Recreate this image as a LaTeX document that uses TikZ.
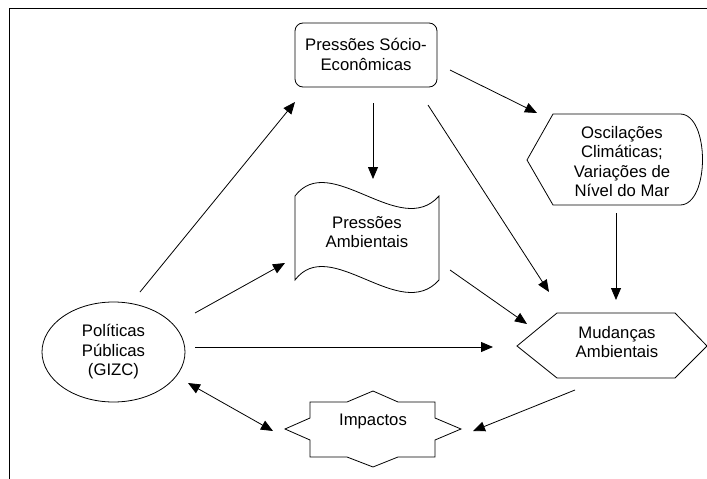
\documentclass[tikz,border=0pt]{standalone}
\usepackage{fontspec}
\setmainfont{Liberation Sans}
\usetikzlibrary{arrows.meta}
\tikzset{
  shapeline/.style={draw=black, line width=0.8pt},
  lbl/.style={align=center, inner sep=0pt, font=\fontsize{16.7}{19.5}\selectfont},
  conn/.style={draw=black, line width=0.8pt, -{Triangle[length=12pt,width=10pt]}},
  dconn/.style={draw=black, line width=0.8pt, {Triangle[length=12pt,width=10pt]}-{Triangle[length=12pt,width=10pt]}},
}
\begin{document}
\begin{tikzpicture}[x=1pt,y=-1pt]
\useasboundingbox (0,0) rectangle (707,479);
% frame
\draw[line width=0.8pt] (9,479) -- (9,8) -- (707,8);

% Pressões Sócio-Econômicas
\draw[shapeline, rounded corners=8pt] (295,23) rectangle (437,87);
\node[lbl] (pse) at (366,54.5) {Pressões Sócio-\\Econômicas};

% Pressões Ambientais (wavy document)
\draw[shapeline] (295,196) .. controls (330,150) and (400,240) .. (439,196)
  -- (439,280) .. controls (400,324) and (330,234) .. (295,280) -- cycle;
\node[lbl] (pa) at (367,232) {Pressões\\Ambientais};

% Oscilações Climáticas (display shape)
\draw[shapeline] (527,160) -- (553,114) -- (680,114)
  .. controls (710,114) and (710,205) .. (680,205) -- (553,205) -- cycle;
\node[lbl] (osc) at (622,161.5) {Oscilações\\Climáticas;\\Variações de\\Nível do Mar};

% Mudanças Ambientais (hexagon)
\draw[shapeline] (517,346) -- (557,313) -- (675,313) -- (707,346) -- (675,378) -- (557,378) -- cycle;
\node[lbl] (mud) at (617,342) {Mudanças\\Ambientais};

% Políticas Públicas (ellipse)
\draw[shapeline] (113.5,352) ellipse [x radius=71.5, y radius=50];
\node[lbl] (pp) at (113.5,352) {Políticas\\Públicas\\(GIZC)};

% Impactos (star)
\draw[shapeline] (285,429) -- (310,418) -- (310,402) -- (347,402) -- (373,391) -- (398,402)
  -- (435,402) -- (435,418) -- (461,429) -- (435,440) -- (435,457) -- (398,457)
  -- (373,467) -- (347,457) -- (310,457) -- (310,440) -- cycle;
\node[lbl] (imp) at (373,421) {Impactos};

% connector end points
\coordinate (pp-a) at (140,292);   \coordinate (pse-a) at (295,102);
\coordinate (pp-b) at (195,313);   \coordinate (pa-b) at (285,263);
\coordinate (pp-c) at (195,347);   \coordinate (mud-c) at (493,347);
\coordinate (pp-d) at (188,383);   \coordinate (imp-d) at (273,431);
\coordinate (pse-e) at (373,103);  \coordinate (pa-e) at (373,179);
\coordinate (pse-f) at (450,70);   \coordinate (osc-f) at (537,113);
\coordinate (pse-g) at (428,105);  \coordinate (mud-g) at (549,292);
\coordinate (pa-h) at (450,270);   \coordinate (mud-h) at (527,324);
\coordinate (osc-i) at (616,213);  \coordinate (mud-i) at (616,300);
\coordinate (mud-j) at (575,390);  \coordinate (imp-j) at (473,431);

\draw[conn] (pp-a) -- (pse-a);
\draw[conn] (pp-b) -- (pa-b);
\draw[conn] (pp-c) -- (mud-c);
\draw[dconn] (pp-d) -- (imp-d);
\draw[conn] (pse-e) -- (pa-e);
\draw[conn] (pse-f) -- (osc-f);
\draw[conn] (pse-g) -- (mud-g);
\draw[conn] (pa-h) -- (mud-h);
\draw[conn] (osc-i) -- (mud-i);
\draw[conn] (mud-j) -- (imp-j);
\end{tikzpicture}
\end{document}
